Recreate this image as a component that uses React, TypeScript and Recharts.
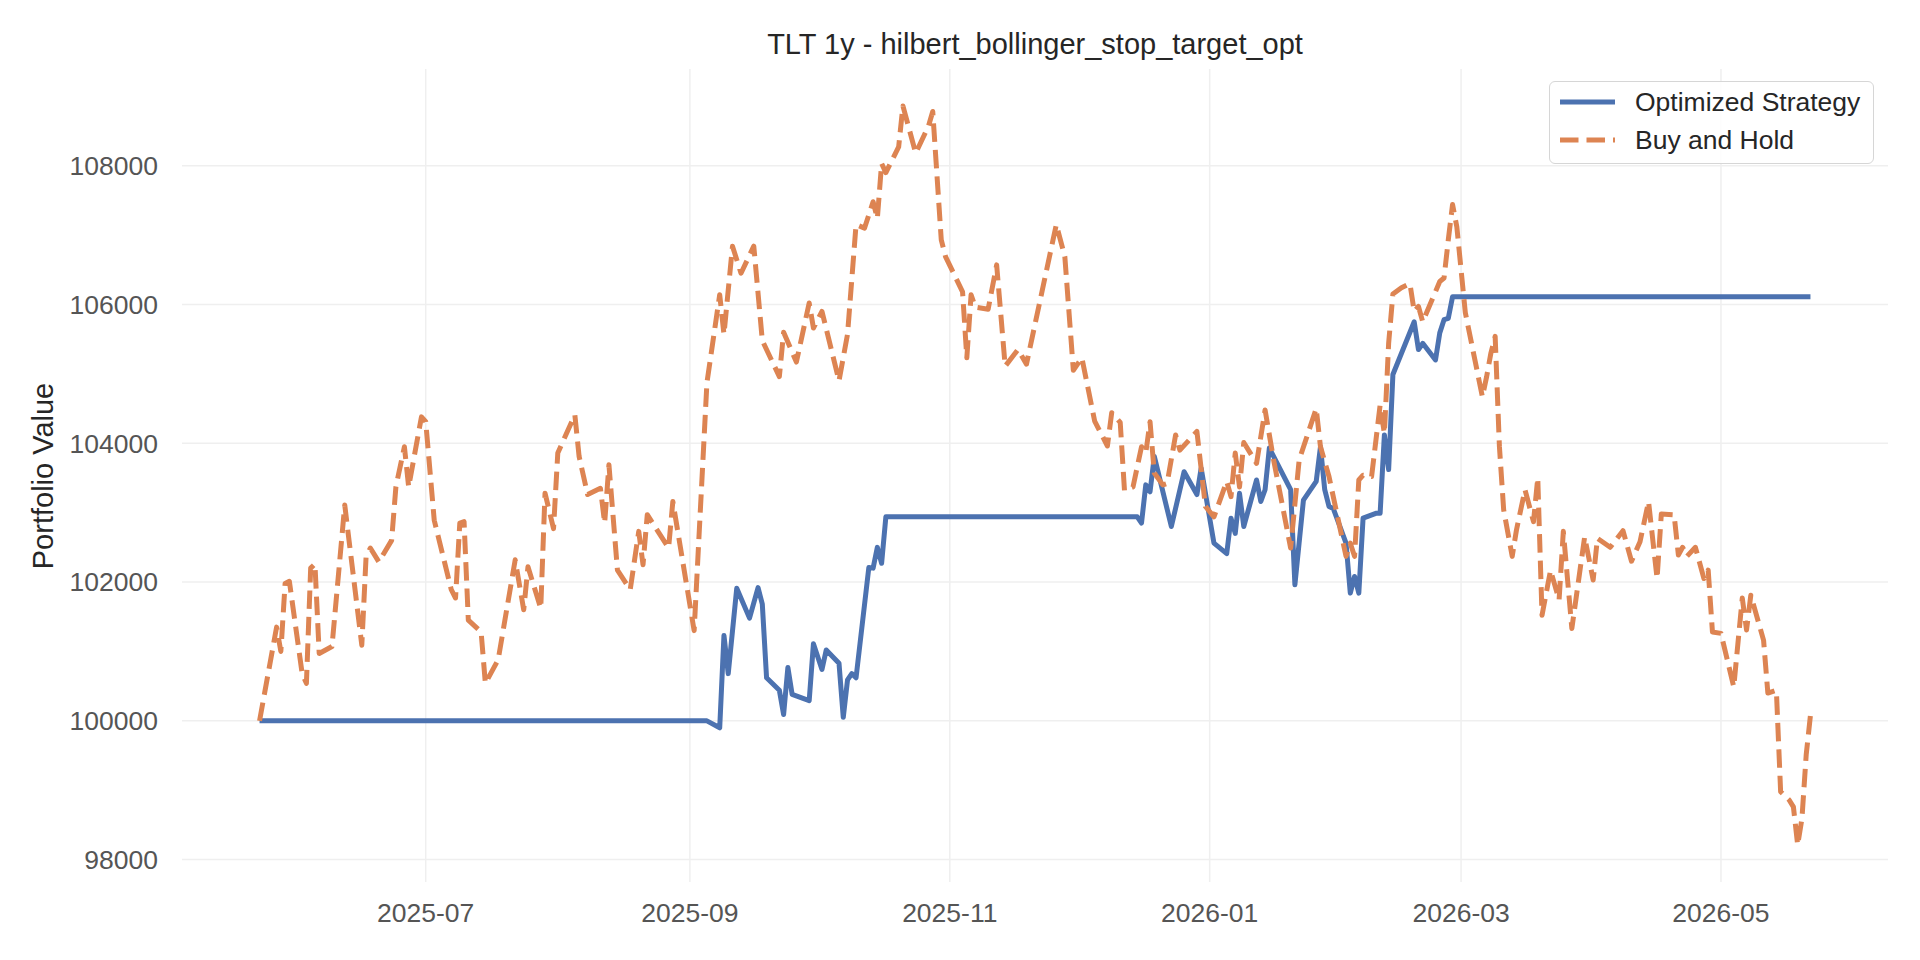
import { LineChart, Line, XAxis, YAxis, CartesianGrid, Legend } from 'recharts'

const TITLE = 'TLT 1y - hilbert_bollinger_stop_target_opt'
const Y_LABEL = 'Portfolio Value'
const START_DATE = '2025-05-23'
const X_TICK_LABELS = ['2025-07', '2025-09', '2025-11', '2026-01', '2026-03', '2026-05']
const Y_TICKS = [98000, 100000, 102000, 104000, 106000, 108000]

// Buy and Hold: days since START_DATE and portfolio value
const BH_DAYS = [
  0, 4, 5, 6, 7, 10, 11, 12, 13, 14, 17, 20, 21, 24, 25, 26, 28, 31, 32, 34,
  35, 38, 39, 41, 45, 46, 47, 48, 49, 52, 53, 56, 60, 62, 63, 66, 67, 69, 70, 74,
  75, 77, 80, 81, 82, 84, 87, 89, 90, 91, 96, 97, 102, 105, 108, 109, 111, 113, 116, 118,
  122, 123, 126, 129, 130, 132, 136, 138, 140, 142, 144, 145, 146, 147, 150, 151, 154, 157, 158, 160,
  161, 165, 166, 167, 168, 171, 173, 175, 178, 180, 187, 189, 191, 193, 196, 199, 200, 202, 203, 205,
  207, 208, 209, 210, 212, 213, 215, 216, 220, 222, 224, 227, 228, 229, 230, 231, 234, 236, 238, 242,
  244, 248, 249, 251, 255, 256, 257, 258, 259, 261, 263, 264, 265, 266, 268, 270, 271, 272, 273, 277,
  278, 279, 280, 281, 283, 287, 288, 289, 290, 291, 292, 294, 295, 297, 299, 300, 301, 303, 305, 306,
  308, 311, 313, 314, 317, 320, 322, 324, 326, 328, 329, 332, 333, 334, 335, 337, 339, 340, 341, 343,
  346, 348, 349, 350, 353, 354, 356, 357, 359, 360, 361, 362, 363, 364,
]
const BH_VALUES = [
  100000, 101350, 101000, 101980, 102010, 100680, 100540, 102200, 102260, 100970, 101070, 103110, 102600, 101090, 102360, 102490, 102290, 102600, 103370, 103950,
  103370, 104380, 104310, 102890, 101890, 101770, 102850, 102870, 101450, 101280, 100540, 100880, 102320, 101600, 102220, 101620, 103280, 102770, 103860, 104410,
  103810, 103260, 103350, 102850, 103690, 102170, 101890, 102730, 102250, 102970, 102490, 103160, 101300, 104870, 106140, 105570, 106840, 106450, 106840, 105480,
  104960, 105600, 105170, 106020, 105660, 105900, 104900, 105570, 107150, 107100, 107480, 107240, 108030, 107900, 108270, 108860, 108180, 108570, 108780, 106930,
  106690, 106180, 105230, 106140, 105960, 105930, 106570, 105110, 105350, 105140, 107150, 106690, 105050, 105230, 104320, 103960, 104440, 104300, 103320, 103370,
  103950, 103860, 104310, 103570, 103400, 103420, 104120, 103900, 104170, 103090, 102940, 103450, 103230, 103860, 103370, 104010, 103710, 104480, 103760, 102490,
  103760, 104500, 103950, 103520, 102370, 102560, 102370, 103470, 103540, 103520, 104550, 104140, 105440, 106150, 106240, 106300, 105900, 105970, 105750, 106330,
  106380, 106930, 107440, 107120, 105880, 104670, 104960, 105300, 105540, 103950, 103040, 102370, 102750, 103330, 102870, 103500, 101520, 102170, 101740, 102730,
  101330, 102650, 102030, 102630, 102500, 102740, 102300, 102580, 103160, 102050, 102980, 102970, 102390, 102500, 102370, 102500, 102050, 102170, 101280, 101260,
  100490, 101770, 101310, 101810, 101160, 100400, 100440, 98980, 98860, 98760, 98210, 98590, 99510, 100080,
]

// Optimized Strategy: days since START_DATE and portfolio value
const OPT_DAYS = [
  0, 105, 108, 109, 110, 112, 115, 117, 118, 119, 122, 123, 124, 125, 129, 130, 132, 133, 136, 137,
  138, 139, 140, 143, 144, 145, 146, 147, 206, 207, 208, 209, 210, 214, 217, 220, 221, 224, 227, 228,
  229, 230, 231, 234, 235, 236, 237, 242, 243, 245, 248, 249, 250, 251, 252, 255, 256, 257, 258, 259,
  262, 263, 264, 265, 266, 271, 272, 273, 276, 277, 278, 279, 280, 364,
]
const OPT_VALUES = [
  100000, 100000, 99900, 101230, 100680, 101910, 101480, 101920, 101680, 100620, 100440, 100090, 100770, 100380, 100290, 101110, 100740, 101020, 100830, 100050,
  100590, 100680, 100620, 102210, 102200, 102500, 102270, 102940, 102940, 102850, 103400, 103300, 103810, 102800, 103590, 103260, 103640, 102560, 102410, 102920,
  102700, 103280, 102800, 103470, 103160, 103330, 103930, 103330, 101960, 103180, 103450, 103950, 103330, 103090, 103060, 102560, 101840, 102080, 101840, 102920,
  102990, 102990, 104120, 103620, 104990, 105750, 105350, 105440, 105200, 105590, 105780, 105800, 106110, 106110,
]

const FONT = "'Liberation Sans', Arial, sans-serif"
const DAY_MS = 86400000
const startMs = Date.parse(START_DATE + 'T00:00:00Z')

const toSeries = (days: number[], values: number[]) =>
  days.map((d, i) => ({ t: startMs + d * DAY_MS, v: values[i] }))

const bhData = toSeries(BH_DAYS, BH_VALUES)
const optData = toSeries(OPT_DAYS, OPT_VALUES)

// matplotlib-style 5% margins around the data
const padded = (vals: number[]): [number, number] => {
  const lo = Math.min(...vals)
  const hi = Math.max(...vals)
  const m = (hi - lo) * 0.05
  return [lo - m, hi + m]
}
const allPoints = [...bhData, ...optData]
const xDomain = padded(allPoints.map(p => p.t))
const yDomain = padded(allPoints.map(p => p.v))
const xTicks = X_TICK_LABELS.map(s => Date.parse(s + '-01T00:00:00Z'))

const SERIES = [
  { name: 'Optimized Strategy', color: '#4c72b0', dash: undefined as string | undefined },
  { name: 'Buy and Hold', color: '#dd8452', dash: '18.5 8' },
]

const renderLegend = () => (
  <div
    style={{
      position: 'relative',
      width: 325,
      height: 83,
      boxSizing: 'border-box',
      border: '1.5px solid #d6d6d6',
      borderRadius: 6,
      background: 'rgba(255,255,255,0.85)',
      fontFamily: FONT,
    }}
  >
    {SERIES.map((s, i) => (
      <div key={s.name} style={{ position: 'absolute', left: 0, top: 4 + i * 38, height: 32, width: 325 }}>
        <svg width={80} height={32} style={{ position: 'absolute', left: 0, top: 0 }}>
          <line x1={10} x2={65} y1={16} y2={16} stroke={s.color} strokeWidth={5} strokeDasharray={s.dash} />
        </svg>
        <span
          style={{
            position: 'absolute',
            left: 85,
            top: 0,
            lineHeight: '32px',
            fontSize: 26.5,
            color: '#262626',
            whiteSpace: 'nowrap',
          }}
        >
          {s.name}
        </span>
      </div>
    ))}
  </div>
)

export default function App() {
  const tickStyle = { fill: '#555555', fontSize: 26.5, fontFamily: FONT }
  return (
    <div style={{ position: 'absolute', left: 0, top: 0, width: 1920, height: 960, background: '#ffffff', fontFamily: FONT }}>
      <LineChart width={1920} height={960} margin={{ top: 69, right: 32, bottom: 0, left: 0 }}>
        <CartesianGrid stroke="#efefef" strokeWidth={1.5} syncWithTicks />
        <XAxis
          type="number"
          dataKey="t"
          domain={xDomain}
          ticks={xTicks}
          tickFormatter={(t: number) => new Date(t).toISOString().slice(0, 7)}
          height={78}
          axisLine={false}
          tickLine={false}
          tickSize={0}
          tickMargin={21}
          tick={tickStyle}
          allowDataOverflow
        />
        <YAxis
          type="number"
          dataKey="v"
          domain={yDomain}
          ticks={Y_TICKS}
          width={182}
          axisLine={false}
          tickLine={false}
          tickSize={0}
          tickMargin={24}
          tick={tickStyle}
          allowDataOverflow
        />
        <Legend
          layout="horizontal"
          align="center"
          verticalAlign="middle"
          content={renderLegend}
          wrapperStyle={{ left: 1549, top: 81, width: 325, height: 83 }}
        />
        <Line
          data={optData}
          dataKey="v"
          name={SERIES[0].name}
          type="linear"
          stroke={SERIES[0].color}
          strokeWidth={5}
          strokeLinejoin="round"
          dot={false}
          activeDot={false}
          isAnimationActive={false}
        />
        <Line
          data={bhData}
          dataKey="v"
          name={SERIES[1].name}
          type="linear"
          stroke={SERIES[1].color}
          strokeWidth={5}
          strokeDasharray={SERIES[1].dash}
          strokeLinejoin="round"
          dot={false}
          activeDot={false}
          isAnimationActive={false}
        />
      </LineChart>
      <div
        style={{
          position: 'absolute',
          left: 182,
          width: 1706,
          top: 30,
          textAlign: 'center',
          fontSize: 29,
          lineHeight: '29px',
          color: '#262626',
          whiteSpace: 'nowrap',
        }}
      >
        {TITLE}
      </div>
      <div
        style={{
          position: 'absolute',
          left: 43,
          top: 475.5,
          transform: 'translate(-50%, -50%) rotate(-90deg)',
          fontSize: 29,
          lineHeight: '29px',
          color: '#262626',
          whiteSpace: 'nowrap',
        }}
      >
        {Y_LABEL}
      </div>
    </div>
  )
}
